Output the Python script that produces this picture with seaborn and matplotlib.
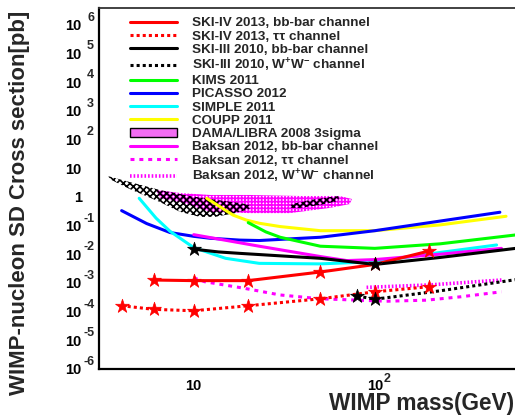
"""
wimp_sd_limits.py
WIMP-nucleon SD cross section limits, ROOT-like look.
"""
import matplotlib
matplotlib.use("Agg")
import matplotlib.pyplot as plt
from matplotlib.lines import Line2D
from matplotlib.patches import Patch
from matplotlib.ticker import FixedLocator, LogLocator, NullFormatter
import seaborn as sns

# ---- data (GeV, pb) ----
ski4_bb_x = [6, 10, 20, 50, 100, 200]
ski4_bb_y = [1.26e-3, 1.2e-3, 1.2e-3, 2.4e-3, 4.4e-3, 1.3e-2]

ski4_tt_x = [4, 6, 10, 20, 50, 100, 200]
ski4_tt_y = [1.6e-4, 1.2e-4, 1.07e-4, 1.6e-4, 2.8e-4, 4.9e-4, 7.4e-4]

ski3_bb_x = [10, 13.7, 18, 50, 100, 229, 600]
ski3_bb_y = [1.5e-2, 1.2e-2, 1.07e-2, 7.2e-3, 4.4e-3, 7.7e-3, 1.6e-2]
ski3_bb_stars = [10, 100]

ski3_ww_x = [80, 100, 229, 600]
ski3_ww_y = [3.5e-4, 2.7e-4, 5.3e-4, 1.3e-3]
ski3_ww_stars = [80, 100]

kims_x = [20, 25, 30, 50, 100, 229, 600]
kims_y = [0.126, 0.06, 3.9e-2, 1.9e-2, 1.6e-2, 2.3e-2, 4.7e-2]

picasso_x = [4.0, 5.5, 7.4, 10, 12.3, 18, 23, 50, 100, 490]
picasso_y = [0.33, 0.117, 5.7e-2, 4.2e-2, 3.6e-2, 3.1e-2, 3.0e-2, 3.9e-2, 6.6e-2, 0.29]

simple_x = [5.0, 6.2, 7.4, 10, 15, 23, 50, 100, 229, 470]
simple_y = [0.89, 0.18, 6.3e-2, 1.7e-2, 7.2e-3, 4.8e-3, 4.6e-3, 5.5e-3, 1.15e-2, 2.1e-2]

coupp_x = [11.8, 16.5, 19.5, 23, 30, 50, 100, 229, 530]
coupp_y = [0.89, 0.23, 0.155, 0.12, 9.2e-2, 6.6e-2, 6.6e-2, 0.105, 0.21]

baksan_bb_x = [10, 23, 50, 70, 100, 229, 500]
baksan_bb_y = [4.8e-2, 1.9e-2, 8.3e-3, 6.0e-3, 6.5e-3, 1.0e-2, 1.6e-2]

baksan_tt_x = [10, 11.5, 19, 30, 50, 116, 192, 300, 500]
baksan_tt_y = [1.5e-3, 1.1e-3, 6.5e-4, 3.8e-4, 2.8e-4, 2.3e-4, 2.5e-4, 3.3e-4, 4.9e-4]

baksan_ww_x = [90, 200, 500]
baksan_ww_y = [7.0e-4, 8.5e-4, 1.26e-3]

# DAMA/LIBRA 3 sigma contours (closed polygons)
dama_pink_x = [6.2, 8.4, 12.3, 20.4, 38.5, 64, 74.7, 72.8, 56.4, 33.9, 20.4, 12.3, 8.4, 6.5]
dama_pink_y = [1.73, 1.36, 1.16, 1.16, 1.07, 1.07, 0.84, 0.56, 0.41, 0.27, 0.27, 0.30, 0.66, 0.91]

dama_band_x = [3.35, 4.43, 6.5, 9.5, 12.3, 17.9, 20.4, 20.4, 16.9, 13.1, 10.8, 8.4, 6.5, 4.43, 3.52]
dama_band_y = [5.3, 3.28, 1.73, 1.07, 0.84, 0.61, 0.52, 0.38, 0.27, 0.20, 0.20, 0.30, 0.66, 1.87, 3.85]

dama_blob_x = [34.8, 43.8, 56.4, 64, 62.5, 49.7, 38.5, 33.9]
dama_blob_y = [0.56, 0.77, 0.98, 1.07, 0.71, 0.52, 0.41, 0.41]

# axis ticks: ROOT style "10" with a big raised exponent
y_ticks = [1e-6, 1e-5, 1e-4, 1e-3, 1e-2, 1e-1, 1, 10, 1e2, 1e3, 1e4, 1e5, 1e6]
y_tick_base = ["10", "10", "10", "10", "10", "10", "1", "10", "10", "10", "10", "10", "10"]
y_tick_exp = ["-6", "-5", "-4", "-3", "-2", "-1", "", "", "2", "3", "4", "5", "6"]
x_ticks = [10, 100]
x_tick_base = ["10", "10"]
x_tick_exp = ["", "2"]

sns.set_style("white")
plt.rcParams["font.family"] = ["Liberation Sans", "DejaVu Sans"]
plt.rcParams["font.weight"] = "bold"
plt.rcParams["mathtext.fontset"] = "custom"
plt.rcParams["mathtext.rm"] = "Liberation Sans:bold"
plt.rcParams["mathtext.it"] = "Liberation Sans:bold"
plt.rcParams["mathtext.bf"] = "Liberation Sans:bold"
plt.rcParams["hatch.linewidth"] = 1.2

fig = plt.figure(figsize=(5.15, 4.16), dpi=100)
ax = fig.add_axes([99 / 515, 1 - 369 / 416, 1 - 99 / 515, 361 / 416])
ax.set_xscale("log")
ax.set_yscale("log")

LW = 2.2
DOT = (0, (1.0, 1.0))
DASH = (0, (1.3, 1.6))
FINE = (0, (0.45, 0.55))

# DAMA regions
ax.fill(dama_pink_x, dama_pink_y, facecolor="none", edgecolor="#ff00ff", hatch="+++++", lw=0)
ax.fill(dama_band_x, dama_band_y, facecolor="none", edgecolor="black", hatch="xxxxx", lw=0)
ax.fill(dama_blob_x, dama_blob_y, facecolor="none", edgecolor="black", hatch="xxxxx", lw=0)


def curve(x, y, color, ls="-", lw=LW):
    sns.lineplot(x=x, y=y, ax=ax, color=color, linestyle=ls, linewidth=lw,
                 estimator=None, sort=False, legend=False)


curve(coupp_x, coupp_y, "#ffff00")
curve(picasso_x, picasso_y, "#0000ff")
curve(kims_x, kims_y, "#00ff00")
curve(simple_x, simple_y, "#00ffff")
curve(baksan_bb_x, baksan_bb_y, "#ff00ff")
curve(baksan_tt_x, baksan_tt_y, "#ff00ff", DASH)
curve(baksan_ww_x, baksan_ww_y, "#ff00ff", FINE, 2.6)
curve(ski4_bb_x, ski4_bb_y, "#ff0000")
curve(ski4_tt_x, ski4_tt_y, "#ff0000", DOT)
curve(ski3_bb_x, ski3_bb_y, "black")
curve(ski3_ww_x, ski3_ww_y, "black", DOT)

# star markers
for sx, sy, c, z in [(ski4_bb_x, ski4_bb_y, "#ff0000", 4), (ski4_tt_x, ski4_tt_y, "#ff0000", 4)]:
    sns.scatterplot(x=sx, y=sy, ax=ax, marker="*", s=110, color=c, edgecolor=c,
                    linewidth=0.5, zorder=z)
bb_star_y = [ski3_bb_y[ski3_bb_x.index(v)] for v in ski3_bb_stars]
ww_star_y = [ski3_ww_y[ski3_ww_x.index(v)] for v in ski3_ww_stars]
for sx, sy in [(ski3_bb_stars, bb_star_y), (ski3_ww_stars, ww_star_y)]:
    sns.scatterplot(x=sx, y=sy, ax=ax, marker="*", s=110, color="black", edgecolor="black",
                    linewidth=0.5, zorder=5)

ax.set_xlim(3, 594)
ax.set_ylim(1e-6, 3.8e6)

ax.yaxis.set_major_locator(FixedLocator(y_ticks))
ax.set_yticklabels(y_tick_base)
ax.yaxis.set_minor_locator(LogLocator(base=10, subs=range(2, 10), numticks=30))
ax.yaxis.set_minor_formatter(NullFormatter())
ax.xaxis.set_major_locator(FixedLocator(x_ticks))
ax.set_xticklabels(x_tick_base)
ax.xaxis.set_minor_locator(LogLocator(base=10, subs=range(2, 10), numticks=30))
ax.xaxis.set_minor_formatter(NullFormatter())

ax.tick_params(which="both", direction="in", width=1.3, colors="black",
               top=False, right=False, labelsize=10.5)
ax.tick_params(which="major", length=7)
ax.tick_params(which="minor", length=3.5)
ax.tick_params(axis="y", pad=12.5)
ax.tick_params(axis="x", pad=7.5)

# raised exponents next to the tick bases
for val, e in zip(y_ticks, y_tick_exp):
    if e:
        dx = -16 if e.startswith("-") else -12
        ax.annotate(e, xy=(0, val), xycoords=("axes fraction", "data"), xytext=(dx, 7),
                    textcoords="offset pixels", ha="left", va="center", fontsize=9,
                    fontweight="bold", annotation_clip=False)
for val, e in zip(x_ticks, x_tick_exp):
    if e:
        ax.annotate(e, xy=(val, 0), xycoords=("data", "axes fraction"), xytext=(9, -4),
                    textcoords="offset pixels", ha="left", va="top", fontsize=9,
                    fontweight="bold", annotation_clip=False)

for side in ["left", "bottom"]:
    ax.spines[side].set_linewidth(1.6)
    ax.spines[side].set_color("black")
ax.spines["top"].set_linewidth(1.3)
ax.spines["top"].set_color("#333333")
ax.spines["right"].set_visible(False)

fig.text(514 / 515, 1 - 410 / 416, "WIMP mass(GeV)", fontsize=16.3, fontweight="bold",
         ha="right", va="baseline")
fig.text(20 / 515, 1 - 203 / 416, "WIMP-nucleon SD Cross section[pb]", fontsize=16,
         fontweight="bold", rotation=90, ha="center", va="center")

handles = [
    Line2D([], [], color="#ff0000", lw=LW),
    Line2D([], [], color="#ff0000", lw=LW, ls=DOT),
    Line2D([], [], color="black", lw=LW),
    Line2D([], [], color="black", lw=LW, ls=DOT),
    Line2D([], [], color="#00ff00", lw=LW),
    Line2D([], [], color="#0000ff", lw=LW),
    Line2D([], [], color="#00ffff", lw=LW),
    Line2D([], [], color="#ffff00", lw=LW),
    Patch(facecolor="#f26cf2", edgecolor="black", lw=1.0),
    Line2D([], [], color="#ff00ff", lw=LW),
    Line2D([], [], color="#ff00ff", lw=LW, ls=DASH),
    Line2D([], [], color="#ff00ff", lw=2.6, ls=FINE),
]
labels = [
    "SKI-IV 2013, bb-bar channel",
    "SKI-IV 2013, ττ channel",
    "SKI-III 2010, bb-bar channel",
    "SKI-III 2010, W$^{+}$W$^{-}$ channel",
    "KIMS 2011",
    "PICASSO 2012",
    "SIMPLE 2011",
    "COUPP 2011",
    "DAMA/LIBRA 2008 3sigma",
    "Baksan 2012, bb-bar channel",
    "Baksan 2012, ττ channel",
    "Baksan 2012, W$^{+}$W$^{-}$ channel",
]
ax.legend(handles, labels, loc="upper left", bbox_to_anchor=(130 / 515, 1 - 17 / 416),
          bbox_transform=fig.transFigure, frameon=False, borderpad=0, borderaxespad=0,
          handlelength=3.5, handleheight=0.7, handletextpad=1.1, labelspacing=0.06,
          prop={"size": 9.7, "weight": "bold"})

fig.savefig("out.png", dpi=100)
